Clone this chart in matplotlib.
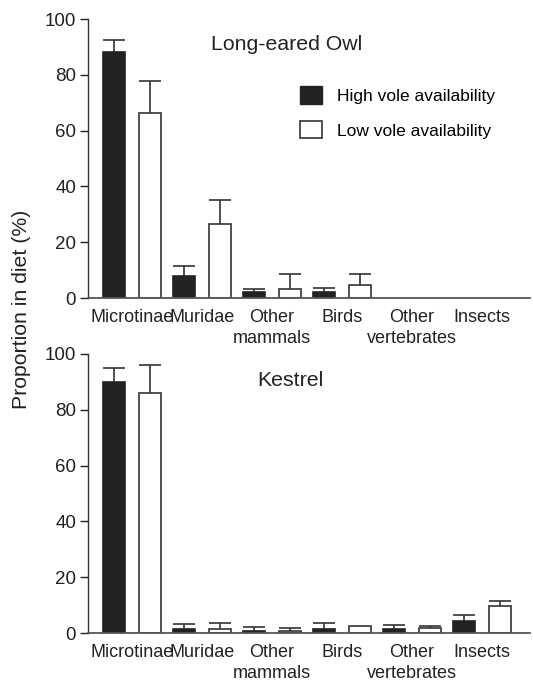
#!/usr/bin/env python3
import numpy as np
import matplotlib
matplotlib.use("Agg")
import matplotlib.pyplot as plt
from matplotlib.patches import Patch

plt.rcParams['font.family'] = ['Liberation Sans', 'DejaVu Sans']

categories = ["Microtinae", "Muridae", "Other\nmammals", "Birds", "Other\nvertebrates", "Insects"]

# Long-eared Owl (mean, upper SD)
owl_high = [88.3, 7.8, 2.0, 2.0, 0, 0]
owl_high_err = [4.0, 3.8, 1.1, 1.7, 0, 0]
owl_low = [66.4, 26.7, 3.2, 4.6, 0, 0]
owl_low_err = [11.3, 8.4, 5.4, 4.0, 0, 0]

# Kestrel
kes_high = [90.0, 1.5, 0.6, 1.5, 1.3, 4.4]
kes_high_err = [5.0, 1.6, 1.6, 2.0, 1.7, 1.9]
kes_low = [86.0, 1.5, 0.8, 2.5, 1.8, 9.6]
kes_low_err = [10.0, 2.0, 1.1, 0, 0.8, 2.0]

W, H = 533, 682
fig = plt.figure(figsize=(W / 100, H / 100), dpi=100)
ax1 = fig.add_axes([88 / W, 1 - 298 / H, 442 / W, 279 / H])
ax2 = fig.add_axes([88 / W, 1 - 633 / H, 442 / W, 279 / H])

x = np.arange(len(categories))
bw = 0.31
off = 0.257
dark = '#222222'
line = '#333333'


def draw_bars(ax, xs, vals, errs, face, edge):
    for xi, v, e in zip(xs, vals, errs):
        if v <= 0:
            continue
        ax.bar(xi, v, bw, color=face, edgecolor=edge, linewidth=1.2, zorder=2)
        if e > 0:
            # upper error bar only
            ax.vlines(xi, v, v + e, color=line, lw=1.2, zorder=1)
            ax.hlines(v + e, xi - bw / 2, xi + bw / 2, color=line, lw=1.2, zorder=1)


def panel(ax, high, high_err, low, low_err, title, title_xy):
    draw_bars(ax, x - off, high, high_err, dark, dark)
    draw_bars(ax, x + off, low, low_err, 'white', line)
    ax.set_xlim(-0.63, 5.69)
    ax.set_ylim(0, 100)
    ax.set_yticks([0, 20, 40, 60, 80, 100])
    ax.set_xticks(x)
    ax.set_xticklabels(categories, fontsize=13, linespacing=1.3, color='#222222')
    ax.tick_params(axis='x', length=0, pad=8)
    ax.tick_params(axis='y', labelsize=13.5, length=5.5, width=1, direction='out',
                   colors='#222222', pad=3)
    for s in ['top', 'right']:
        ax.spines[s].set_visible(False)
    ax.spines['left'].set_color(line)
    ax.spines['bottom'].set_color('#555555')
    ax.spines['left'].set_linewidth(1.0)
    ax.spines['bottom'].set_linewidth(1.3)
    fig.text(title_xy[0] / W, 1 - title_xy[1] / H, title, fontsize=15.3,
             ha='center', va='center', color='#222222')


panel(ax1, owl_high, owl_high_err, owl_low, owl_low_err, "Long-eared Owl", (287, 45))
panel(ax2, kes_high, kes_high_err, kes_low, kes_low_err, "Kestrel", (290, 381))

handles = [Patch(facecolor=dark, edgecolor=dark, label='High vole availability'),
           Patch(facecolor='white', edgecolor=line, linewidth=1.2, label='Low vole availability')]
fig.legend(handles=handles, loc='center left', bbox_to_anchor=(300 / W, 1 - 112.5 / H),
           frameon=False, fontsize=12.5, handlelength=1.27, handleheight=1.15,
           labelspacing=1.0, handletextpad=0.86, borderpad=0, borderaxespad=0)

fig.text(22 / W, 1 - 309 / H, "Proportion in diet (%)", rotation=90, fontsize=15.3,
         ha='center', va='center', color='#222222')

fig.savefig("out.png", dpi=100)
